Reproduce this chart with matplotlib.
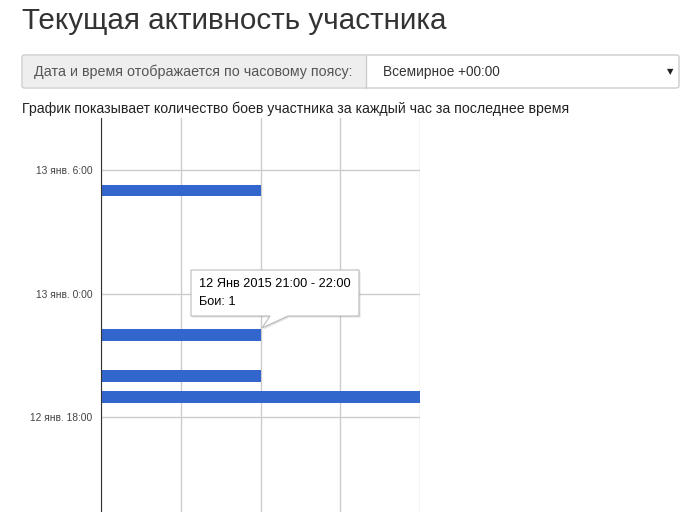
import matplotlib
matplotlib.use("Agg")
import matplotlib.pyplot as plt
import matplotlib.patches as patches

W, H = 697, 512

# hours counted from 12 Jan 00:00
bar_hours = [19, 20, 22, 29]
fights = [2, 1, 1, 1]
tick_hours = [18, 24, 30]
tick_labels = ["12 янв. 18:00", "13 янв. 0:00", "13 янв. 6:00"]
x_grid = [0, 0.5, 1, 1.5, 2]

title = "Текущая активность участника"
tz_label = "Дата и время отображается по часовому поясу:"
tz_value = "Всемирное +00:00"
subtitle = "График показывает количество боев участника за каждый час за последнее время"
tip_lines = ["12 Янв 2015 21:00 - 22:00", "Бои: 1"]

BAR_COLOR = "#3366cc"
GRID = "#cccccc"
FONT = ["Liberation Sans", "DejaVu Sans"]


def fx(px):
    return px / W


def fy(py):
    return 1 - py / H


fig = plt.figure(figsize=(W / 100, H / 100), dpi=100)
fig.patch.set_facecolor("white")

# header
fig.text(fx(22), fy(21), title, fontsize=21.3, color="#333333", va="center", family=FONT)

# timezone selector
box = patches.FancyBboxPatch((fx(22), fy(88)), fx(657), 33 / H,
                             boxstyle="round,pad=0,rounding_size=0.004",
                             transform=fig.transFigure, facecolor="white",
                             edgecolor="#cccccc", linewidth=1)
fig.patches.append(box)
grey = patches.Rectangle((fx(23), fy(87)), fx(343), 31 / H, transform=fig.transFigure,
                         facecolor="#eeeeee", edgecolor="none")
fig.patches.append(grey)
fig.add_artist(plt.Line2D([fx(366), fx(366)], [fy(56), fy(88)], color="#cccccc",
                          linewidth=1, transform=fig.transFigure))
fig.text(fx(34), fy(72), tz_label, fontsize=10.3, color="#555555", va="center", family=FONT)
fig.text(fx(383), fy(72), tz_value, fontsize=9.8, color="#333333", va="center", family=FONT)
fig.text(fx(670), fy(72), "▼", fontsize=6, color="#222222", va="center", ha="center",
         family=["DejaVu Sans"])

fig.text(fx(22), fy(109), subtitle, fontsize=10.2, color="#222222", va="center", family=FONT)

# chart
ax = fig.add_axes([fx(101), 0, fx(420) - fx(101), fy(118)])
px_per_hour = 124 / 6
y_bottom = 18 - (512 - 417) / px_per_hour
y_top = 30 + (170 - 118) / px_per_hour
ax.barh(bar_hours, fights, height=0.57, color=BAR_COLOR, zorder=3)
ax.set_xlim(0, 2)
ax.set_ylim(y_bottom, y_top)
ax.set_xticks(x_grid)
ax.set_yticks(tick_hours)
ax.set_yticklabels(tick_labels, fontsize=7.4, color="#444444", family=FONT)
ax.tick_params(axis="y", length=0, pad=6)
ax.tick_params(axis="x", length=0, labelbottom=False)
ax.grid(True, color=GRID, linewidth=1, zorder=0)
for side in ["top", "right", "bottom"]:
    ax.spines[side].set_visible(False)
ax.spines["left"].set_color("#333333")
ax.spines["left"].set_zorder(4)

# tooltip with pointer
bx0, by0, bx1, by1 = 191, 270, 359, 316
outline = [(bx0, by0), (bx1, by0), (bx1, by1), (288, by1), (262, 328), (270, by1), (bx0, by1)]
shadow = patches.Polygon([(fx(x + 1.5), fy(y + 1.5)) for x, y in outline], closed=True,
                         transform=fig.transFigure, facecolor="#000000", alpha=0.12,
                         edgecolor="none", zorder=5)
fig.patches.append(shadow)
tip = patches.Polygon([(fx(x), fy(y)) for x, y in outline], closed=True,
                      transform=fig.transFigure, facecolor="white", edgecolor="#bbbbbb",
                      linewidth=0.8, zorder=6)
fig.patches.append(tip)
fig.text(fx(199), fy(284), tip_lines[0], fontsize=9.2, color="#000000", va="center",
         family=FONT, zorder=7)
fig.text(fx(199), fy(302), tip_lines[1], fontsize=9.2, color="#000000", va="center",
         family=FONT, zorder=7)

fig.savefig("out.png", dpi=100)
